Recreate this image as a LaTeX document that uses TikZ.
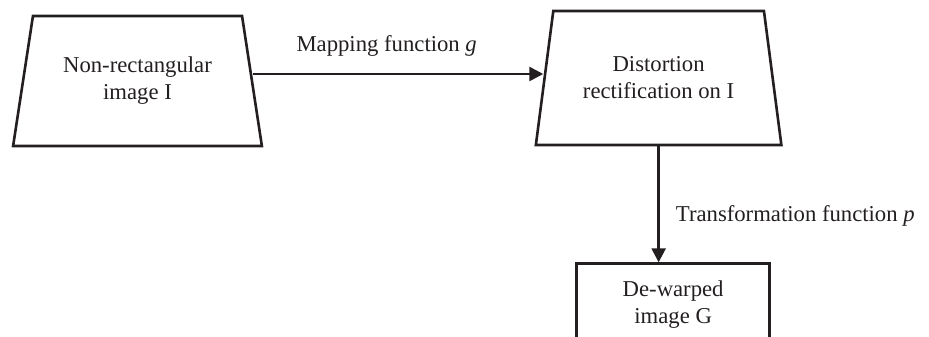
\documentclass[tikz,border=0pt]{standalone}
\usepackage{fontspec}
\setmainfont{Liberation Serif}
\usepackage{tikz}
\usetikzlibrary{arrows.meta,positioning,shapes.geometric}
\definecolor{inkline}{HTML}{231F20}

\begin{document}
\begin{tikzpicture}[x=1pt, y=1pt,
  trap/.style={draw=inkline, trapezium, trapezium stretches=true, trapezium angle=73.5, line width=2.6pt, align=center, font=\fontsize{22.7}{27}\selectfont, text=inkline, inner sep=0pt},
  outbox/.style={draw=inkline, rectangle, line width=2.6pt, minimum width=193pt, minimum height=82pt, align=center, font=\fontsize{22.7}{27}\selectfont, text=inkline, inner sep=0pt},
  arr/.style={-{Triangle[length=14pt, width=14pt]}, line width=2.6pt, inkline},
  lbl/.style={font=\fontsize{22.7}{27}\selectfont, text=inkline, inner sep=0pt}
]
  \useasboundingbox (0,0) rectangle (929,337);

  \node[trap, minimum width=249pt, minimum height=130pt] (nonrect) at (137.5,256) {Non-rectangular\\image I};
  \node[trap, minimum width=246pt, minimum height=134pt, right=290pt of nonrect, yshift=3pt] (distort) {Distortion\\rectification on I};
  \node[outbox, below=116pt of distort, xshift=14.5pt] (dewarp) {De-warped\\image G};

  \draw[arr] ([yshift=7pt]nonrect.east) -- ([yshift=7pt]nonrect.east -| distort.west)
    node[lbl, pos=0.46, yshift=28pt] (maplbl) {Mapping function \textit{g}};
  \draw[arr] (distort.south) -- (distort.south |- dewarp.north)
    node[lbl, pos=0.6, anchor=west, xshift=16pt] (translbl) {Transformation function \textit{p}};
\end{tikzpicture}
\end{document}
